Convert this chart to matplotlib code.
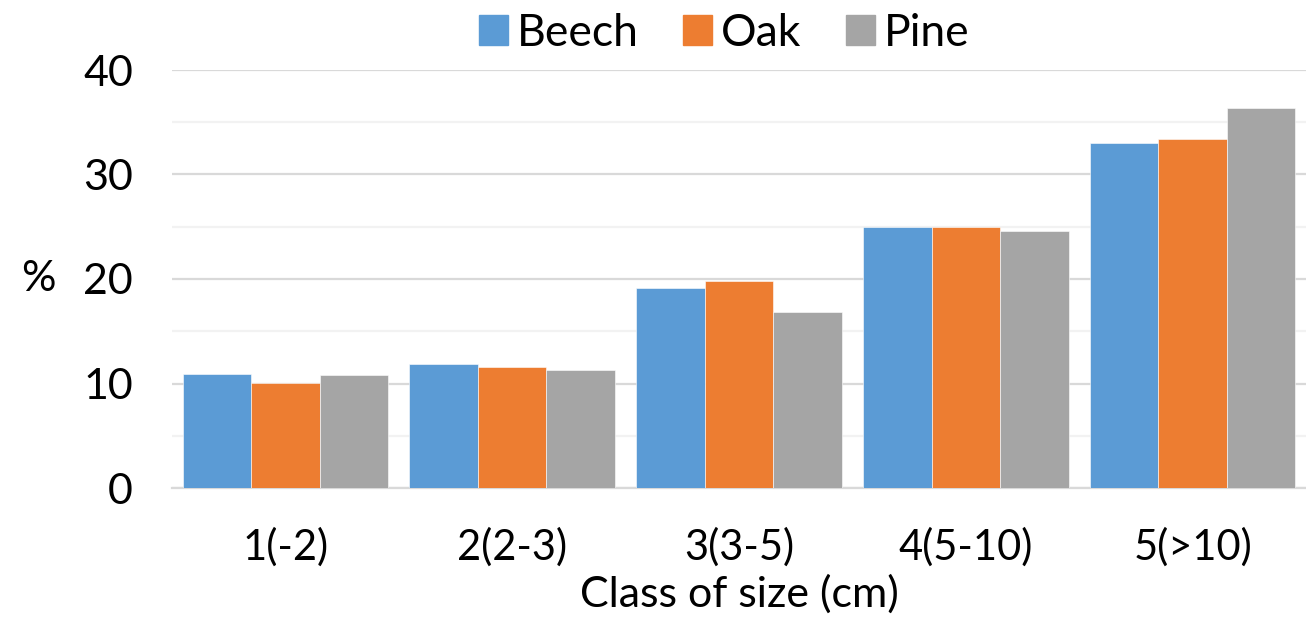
import numpy as np
from matplotlib import pyplot as plt
from matplotlib.ticker import MultipleLocator
from matplotlib.patches import Patch

# values (%)
classes = ['1(-2)', '2(2-3)', '3(3-5)', '4(5-10)', '5(>10)']
beech = [10.9, 11.9, 19.1, 25.0, 33.0]
oak = [10.05, 11.6, 19.8, 25.0, 33.4]
pine = [10.85, 11.3, 16.8, 24.6, 36.4]
series_names = ['Beech', 'Oak', 'Pine']
colors = ['#5B9BD5', '#ED7D31', '#A5A5A5']

fig = plt.figure(figsize=(13.06, 6.27), dpi=100)
ax = fig.add_axes([172 / 1306, 1 - 488 / 627, 1 - 172 / 1306, (488 - 70) / 627])

x = np.arange(len(classes))
w = 0.302
for i, (vals, c) in enumerate(zip([beech, oak, pine], colors)):
    ax.bar(x + (i - 1) * w, vals, width=w, color=c, edgecolor='white',
           linewidth=0.4, zorder=3)

ax.set_xlim(-0.5, len(classes) - 0.5)
ax.set_ylim(0, 40)
ax.yaxis.set_major_locator(MultipleLocator(10))
ax.yaxis.set_minor_locator(MultipleLocator(5))
ax.grid(axis='y', which='major', color='#d9d9d9', linewidth=1.6, zorder=0)
ax.grid(axis='y', which='minor', color='#f2f2f2', linewidth=1.6, zorder=0)
ax.set_axisbelow(True)

for s in ['top', 'right', 'left']:
    ax.spines[s].set_visible(False)
ax.spines['bottom'].set_color('#d9d9d9')
ax.spines['bottom'].set_linewidth(1.6)

tick_font = 'Lato'
ax.set_xticks(x)
ax.set_xticklabels(classes, fontsize=30, family=tick_font)
ax.tick_params(axis='x', length=0, pad=28)
ax.tick_params(axis='y', which='both', length=0, pad=28, labelsize=31)
for lab in ax.get_yticklabels():
    lab.set_family(tick_font)

ax.set_xlabel('Class of size (cm)', fontsize=31, family=tick_font, labelpad=6)
ax.set_ylabel('%', rotation=0, fontsize=31, family=tick_font, labelpad=32,
              va='center')

handles = [Patch(color=c) for c in colors]
fig.legend(handles, series_names, loc='center', bbox_to_anchor=(724 / 1306, 1 - 33 / 627),
           ncol=3, frameon=False, prop={'family': 'Lato', 'size': 32},
           handlelength=0.65, handleheight=0.65, handletextpad=0.2, columnspacing=1.0)

fig.savefig('out.png', dpi=100)
